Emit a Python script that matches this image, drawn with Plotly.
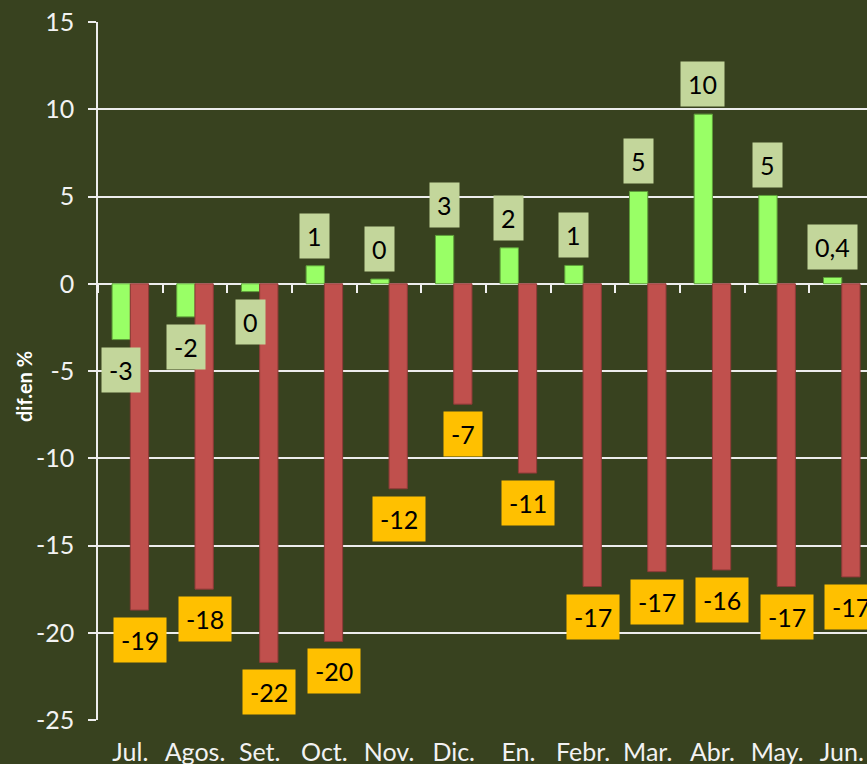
import plotly.graph_objects as go

months = ["Jul.", "Agos.", "Set.", "Oct.", "Nov.", "Dic.", "En.", "Febr.", "Mar.", "Abr.", "May.", "Jun."]
green_vals = [-3.2, -1.9, -0.45, 1.03, 0.27, 2.77, 2.06, 1.05, 5.29, 9.72, 5.06, 0.36]
red_vals = [-18.7, -17.5, -21.7, -20.5, -11.75, -6.9, -10.85, -17.35, -16.5, -16.4, -17.35, -16.8]
green_labels = ["-3", "-2", "0", "1", "0", "3", "2", "1", "5", "10", "5", "0,4"]
red_labels = ["-19", "-18", "-22", "-20", "-12", "-7", "-11", "-17", "-17", "-16", "-17", "-17"]
y_ticks = [15, 10, 5, 0, -5, -10, -15, -20, -25]

BG = "#38421F"
FONT = "Lato"

fig = go.Figure()
fig.add_trace(go.Bar(x=months, y=green_vals, name="g",
                     marker=dict(color="#99FF66", line=dict(color="#5E9E3A", width=1))))
fig.add_trace(go.Bar(x=months, y=red_vals, name="r",
                     marker=dict(color="#C0504D", line=dict(color="#8E3A38", width=1))))
# invisible trace on secondary x axis used to draw tick marks at y=0
fig.add_trace(go.Scatter(x=months, y=[0] * len(months), xaxis="x2", mode="markers",
                         marker=dict(opacity=0), hoverinfo="skip", showlegend=False))

ymin, ymax = -25, 15
xrange = [-0.5, 11.39]

for m, v, t in zip(months, green_vals, green_labels):
    fig.add_annotation(x=m, y=v, text=t, showarrow=False, xshift=-9.5,
                       yshift=30 if v >= 0 else -30,
                       bgcolor="#C3D69B", borderpad=7,
                       font=dict(family=FONT, size=25, color="#000000"))
for m, v, t in zip(months, red_vals, red_labels):
    fig.add_annotation(x=m, y=v, text=t, showarrow=False, xshift=9.5,
                       yshift=30 if v >= 0 else -30,
                       bgcolor="#FFC000", borderpad=7,
                       font=dict(family=FONT, size=25, color="#000000"))

fig.add_annotation(xref="paper", yref="paper", x=0, y=0.5, xshift=-88, yshift=-16,
                   text="<b>dif.en %</b>", textangle=-90, showarrow=False,
                   font=dict(family=FONT, size=20, color="#FFFFFF"))

fig.update_layout(
    width=867, height=764,
    margin=dict(l=98, r=0, t=22, b=44),
    paper_bgcolor=BG, plot_bgcolor=BG,
    barmode="group", bargap=0.435, bargroupgap=0,
    showlegend=False,
    font=dict(family=FONT, size=25, color="#F2F2F2"),
    xaxis=dict(type="category", categoryorder="array", categoryarray=months,
               range=xrange, showgrid=False, zeroline=False, showline=False,
               ticks="", ticklabelstandoff=15, automargin=False,
               tickfont=dict(family=FONT, size=25, color="#F2F2F2")),
    xaxis2=dict(type="category", categoryorder="array", categoryarray=months,
                range=xrange, overlaying="x", anchor="free", position=(0 - ymin) / (ymax - ymin),
                side="bottom", showgrid=False, zeroline=False, showline=False,
                showticklabels=False, ticks="outside", tickson="boundaries",
                ticklen=8, tickwidth=1.5, tickcolor="#F2F2F2", automargin=False),
    yaxis=dict(range=[ymin, ymax], tickvals=y_ticks, ticktext=[str(v) for v in y_ticks],
               showgrid=True, gridcolor="#EDEDED", gridwidth=1.5,
               zeroline=True, zerolinecolor="#EDEDED", zerolinewidth=1.5,
               showline=True, linecolor="#EDEDED", linewidth=1.5,
               ticks="outside", ticklen=8, tickwidth=1.5, tickcolor="#EDEDED",
               ticklabelstandoff=9, automargin=False,
               tickfont=dict(family=FONT, size=25, color="#F2F2F2")),
)

fig.write_html("out.html", config={"displayModeBar": False},
               post_script="document.body.style.margin='0';document.body.style.background='#38421F';")
